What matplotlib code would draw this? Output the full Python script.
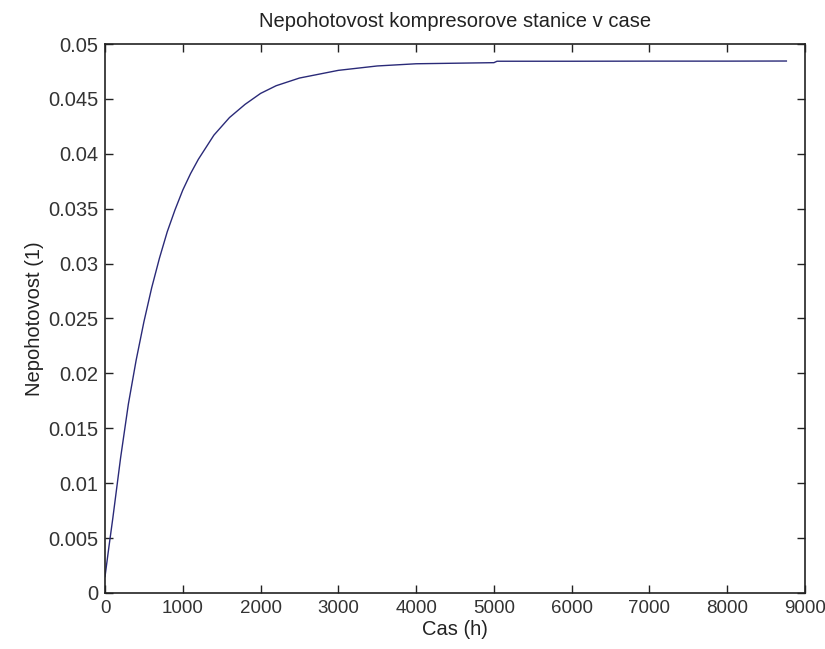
import matplotlib
matplotlib.use("Agg")
import matplotlib.pyplot as plt
from matplotlib.ticker import FormatStrFormatter

# values
cas_h = [0, 50, 100, 200, 300, 400, 500, 600, 700, 800, 900, 1000, 1100,
         1200, 1400, 1600, 1800, 2000, 2200, 2500, 3000, 3500, 4000, 5000,
         5040, 6000, 7000, 8000, 8760]
nepohotovost = [0.0015, 0.0042, 0.0068, 0.0123, 0.0172, 0.0212, 0.0247,
                0.0278, 0.0305, 0.0329, 0.0349, 0.0367, 0.0382, 0.0395,
                0.0417, 0.0433, 0.0445, 0.0455, 0.0462, 0.0469, 0.0476,
                0.0480, 0.0482, 0.0483, 0.04843, 0.04843, 0.04844, 0.04844,
                0.04845]

x_ticks = [0, 1000, 2000, 3000, 4000, 5000, 6000, 7000, 8000, 9000]
y_ticks = [0, 0.005, 0.01, 0.015, 0.02, 0.025, 0.03, 0.035, 0.04, 0.045, 0.05]

plt.rcParams["font.family"] = ["Liberation Sans", "DejaVu Sans"]
plt.rcParams["font.size"] = 14.5

fig = plt.figure(figsize=(8.25, 6.49), dpi=100)
ax = fig.add_axes([0.1273, 0.0863, 0.8485, 0.8459])

ax.plot(cas_h, nepohotovost, color="#2a2a78", linewidth=1.0)

ax.set_xlim(0, 9000)
ax.set_ylim(0, 0.05)
ax.set_xticks(x_ticks)
ax.set_yticks(y_ticks)
ax.yaxis.set_major_formatter(FormatStrFormatter("%g"))
ax.tick_params(direction="in", length=6, width=1.0, top=True, right=True,
               colors="#222222", labelcolor="#333333", pad=5)
ax.tick_params(axis="x", labelsize=13.5)
for s in ax.spines.values():
    s.set_linewidth(1.2)
    s.set_color("#222222")

ax.set_title("Nepohotovost kompresorove stanice v case", fontsize=14.5,
             pad=12, color="#222222")
ax.set_xlabel("Cas (h)", labelpad=2, color="#222222")
ax.set_ylabel("Nepohotovost (1)", labelpad=3, color="#222222")

fig.savefig("out.png", dpi=100)
